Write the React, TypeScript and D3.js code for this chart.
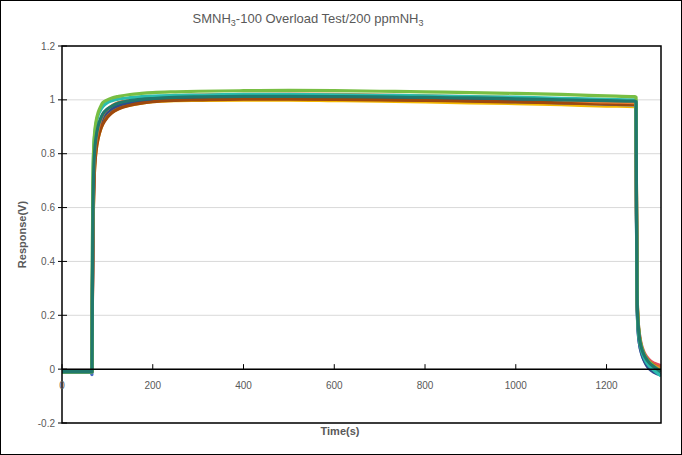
import React from "react";
import * as d3 from "d3";

const W = 682;
const H = 455;

const xTicks = [0, 200, 400, 600, 800, 1000, 1200];
const yTicks = [-0.2, 0, 0.2, 0.4, 0.6, 0.8, 1, 1.2];
const yTickLabels = ["-0.2", "0", "0.2", "0.4", "0.6", "0.8", "1", "1.2"];

const time = [0, 64, 66, 67, 68, 70, 72, 75, 80, 85, 90, 100, 110, 125, 150, 175, 200, 250, 300, 400, 500, 600, 700, 800, 900, 1000, 1100, 1200, 1262, 1265, 1266, 1267, 1268, 1270, 1273, 1277, 1282, 1288, 1295, 1305, 1320];

const redVals = [-0.009, -0.009, -0.009, 0.26, 0.47, 0.67, 0.76, 0.82, 0.865, 0.895, 0.915, 0.94, 0.955, 0.97, 0.982, 0.99, 0.995, 0.999, 1.0, 1.002, 1.002, 1.001, 0.999, 0.997, 0.994, 0.991, 0.987, 0.983, 0.98, 0.978, 0.6, 0.34, 0.24, 0.17, 0.125, 0.09, 0.065, 0.047, 0.033, 0.022, 0.013];
const goldVals = [-0.01, -0.01, -0.01, 0.25, 0.46, 0.66, 0.75, 0.81, 0.86, 0.89, 0.912, 0.937, 0.953, 0.968, 0.98, 0.988, 0.993, 0.997, 0.998, 0.999, 0.999, 0.997, 0.995, 0.992, 0.989, 0.986, 0.982, 0.977, 0.975, 0.974, 0.58, 0.32, 0.22, 0.155, 0.11, 0.078, 0.055, 0.038, 0.024, 0.013, 0.004];
const blueVals = [-0.012, -0.012, -0.02, 0.27, 0.48, 0.69, 0.775, 0.835, 0.88, 0.91, 0.93, 0.952, 0.965, 0.978, 0.988, 0.995, 0.999, 1.003, 1.005, 1.006, 1.006, 1.005, 1.003, 1.0, 0.997, 0.993, 0.989, 0.984, 0.981, 0.98, 0.56, 0.3, 0.2, 0.135, 0.09, 0.06, 0.037, 0.018, 0.004, -0.008, -0.02];
const oliveVals = [-0.009, -0.009, -0.009, 0.33, 0.58, 0.74, 0.8, 0.845, 0.885, 0.912, 0.932, 0.955, 0.968, 0.98, 0.99, 0.996, 1.0, 1.003, 1.004, 1.005, 1.005, 1.004, 1.002, 1.0, 0.997, 0.994, 0.99, 0.986, 0.984, 0.983, 0.6, 0.33, 0.23, 0.16, 0.115, 0.082, 0.058, 0.04, 0.026, 0.014, 0.004];
const darkBlueVals = [-0.01, -0.01, -0.01, 0.28, 0.5, 0.7, 0.78, 0.84, 0.885, 0.915, 0.935, 0.955, 0.968, 0.98, 0.99, 0.997, 1.0, 1.004, 1.006, 1.008, 1.008, 1.007, 1.005, 1.003, 1.0, 0.997, 0.992, 0.986, 0.983, 0.982, 0.55, 0.3, 0.2, 0.13, 0.09, 0.06, 0.035, 0.015, 0.0, -0.012, -0.022];
const brownVals = [-0.009, -0.009, -0.009, 0.25, 0.45, 0.66, 0.75, 0.81, 0.86, 0.89, 0.91, 0.935, 0.952, 0.967, 0.98, 0.988, 0.993, 0.998, 1.0, 1.003, 1.003, 1.002, 1.0, 0.998, 0.995, 0.992, 0.989, 0.985, 0.983, 0.982, 0.58, 0.32, 0.22, 0.15, 0.105, 0.073, 0.05, 0.032, 0.018, 0.007, -0.002];
const orangeVals = [-0.009, -0.009, -0.009, 0.3, 0.52, 0.72, 0.8, 0.85, 0.895, 0.925, 0.945, 0.965, 0.978, 0.99, 1.0, 1.006, 1.01, 1.015, 1.018, 1.02, 1.021, 1.02, 1.018, 1.015, 1.012, 1.008, 1.0, 0.992, 0.99, 0.988, 0.6, 0.33, 0.23, 0.16, 0.115, 0.08, 0.056, 0.038, 0.024, 0.012, 0.003];
const cyanVals = [-0.01, -0.01, -0.01, 0.4, 0.68, 0.82, 0.87, 0.91, 0.945, 0.962, 0.975, 0.99, 0.997, 1.003, 1.008, 1.012, 1.014, 1.017, 1.018, 1.02, 1.02, 1.019, 1.017, 1.015, 1.012, 1.01, 1.006, 1.002, 1.0, 0.998, 0.55, 0.3, 0.2, 0.14, 0.1, 0.07, 0.045, 0.025, 0.01, -0.005, -0.025];
const greenVals = [-0.01, -0.01, -0.01, 0.45, 0.7, 0.83, 0.88, 0.92, 0.955, 0.975, 0.99, 1.0, 1.007, 1.013, 1.02, 1.024, 1.027, 1.03, 1.032, 1.034, 1.035, 1.034, 1.032, 1.03, 1.027, 1.024, 1.02, 1.015, 1.012, 1.01, 0.62, 0.35, 0.24, 0.17, 0.12, 0.085, 0.06, 0.04, 0.025, 0.01, -0.005];
const tealVals = [-0.009, -0.009, -0.009, 0.3, 0.55, 0.74, 0.81, 0.86, 0.905, 0.93, 0.948, 0.966, 0.977, 0.988, 0.997, 1.002, 1.005, 1.009, 1.011, 1.013, 1.013, 1.012, 1.011, 1.009, 1.007, 1.004, 1.0, 0.997, 0.995, 0.993, 0.6, 0.32, 0.22, 0.16, 0.11, 0.078, 0.055, 0.037, 0.022, 0.008, -0.01];

const seriesNames = ["red", "gold", "blue", "olive", "darkBlue", "brown", "orange", "cyan", "green", "teal"];
const seriesValues = [redVals, goldVals, blueVals, oliveVals, darkBlueVals, brownVals, orangeVals, cyanVals, greenVals, tealVals];
const seriesColors = ["#e2505c", "#f5b800", "#4a6fc4", "#a67c00", "#2f4a8c", "#9e480e", "#ed7d31", "#2bbcae", "#78be43", "#20786c"];

const FONT = "'Liberation Sans', Arial, sans-serif";
const GREY = "#595959";

export default function App() {
  const left = 62, right = 661, top = 46, bottom = 423;
  const x = d3.scaleLinear().domain([0, 1320]).range([left, right]);
  const y = d3.scaleLinear().domain([-0.2, 1.2]).range([bottom, top]);
  const line = d3
    .line<number>()
    .x((_, i) => x(time[i]))
    .y((d) => y(d))
    .curve(d3.curveMonotoneX);

  return (
    <svg width={W} height={H} style={{ position: "absolute", left: 0, top: 0, background: "#fff" }} fontFamily={FONT}>
      <defs>
        <clipPath id="plotClip">
          <rect x={left} y={top} width={right - left} height={bottom - top} />
        </clipPath>
      </defs>
      <rect x={0.5} y={0.5} width={W - 1} height={H - 1} fill="#fff" stroke="#000" strokeWidth={1} />
      <text x={308} y={23} textAnchor="middle" fontSize={13} fill={GREY}>
        SMNH<tspan fontSize={9} dy={3}>3</tspan>
        <tspan dy={-3}>-100 Overload Test/200 ppmNH</tspan>
        <tspan fontSize={9} dy={3}>3</tspan>
      </text>
      {yTicks.map((t) => (
        <line key={"g" + t} x1={left} x2={right} y1={y(t)} y2={y(t)} stroke="#d9d9d9" strokeWidth={1} />
      ))}
      <g clipPath="url(#plotClip)">
        {seriesValues.map((vals, i) => (
          <path
            key={seriesNames[i]}
            d={line(vals) || ""}
            fill="none"
            stroke={seriesColors[i]}
            strokeWidth={3.2}
            strokeLinejoin="round"
          />
        ))}
      </g>
      <rect x={left} y={top} width={right - left} height={bottom - top} fill="none" stroke="#000" strokeWidth={1.5} />
      <line x1={left} x2={right} y1={y(0)} y2={y(0)} stroke="#000" strokeWidth={1.5} />
      {xTicks.map((t) => (
        <g key={"x" + t}>
          <line x1={x(t)} x2={x(t)} y1={y(0)} y2={y(0) - 5} stroke="#000" strokeWidth={1} />
          <text x={x(t)} y={y(0) + 20} textAnchor="middle" fontSize={10} fill={GREY}>
            {t}
          </text>
        </g>
      ))}
      {yTicks.map((t, i) => (
        <g key={"y" + t}>
          <line x1={left - 4} x2={left + 5} y1={y(t)} y2={y(t)} stroke="#000" strokeWidth={1} />
          <text x={left - 7} y={y(t) + 3.5} textAnchor="end" fontSize={10} fill={GREY}>
            {yTickLabels[i]}
          </text>
        </g>
      ))}
      <text x={340} y={435} textAnchor="middle" fontSize={11} fontWeight="bold" fill={GREY}>
        Time(s)
      </text>
      <text
        transform={`translate(26, ${(top + bottom) / 2}) rotate(-90)`}
        textAnchor="middle"
        fontSize={11}
        fontWeight="bold"
        fill={GREY}
      >
        Response(V)
      </text>
    </svg>
  );
}
